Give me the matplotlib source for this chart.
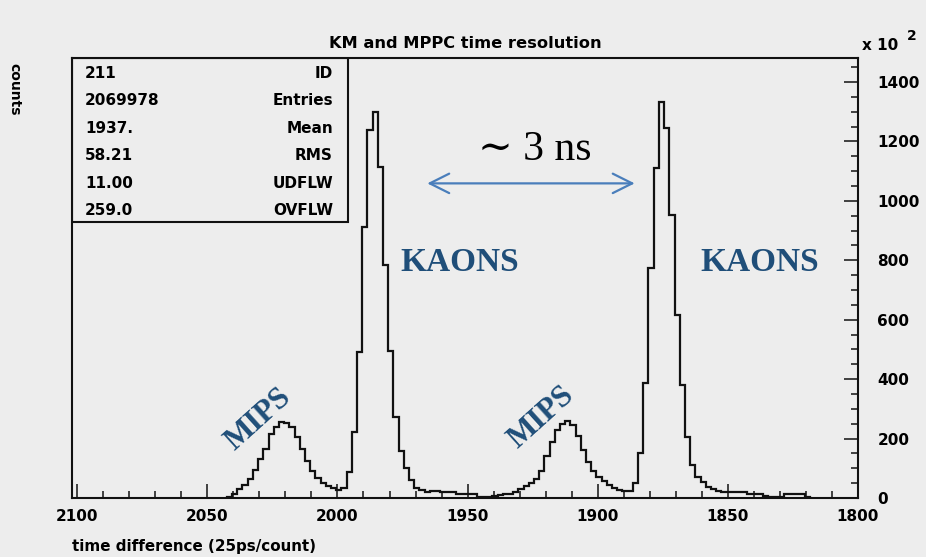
import numpy as np
import matplotlib
matplotlib.use("Agg")
import matplotlib.pyplot as plt
from matplotlib.ticker import MultipleLocator, FixedLocator
from matplotlib.patches import Rectangle, FancyArrowPatch

# ── histogram contents (counts / 100), 2-channel bins from 2042.5 downwards ──
bin_top = 2042.5
bin_width = 2.0
counts = [
    5, 15, 30, 45, 65, 95, 130, 165, 215, 240,
    255, 252, 240, 205, 165, 125, 90, 68, 52, 42,
    35, 28, 35, 88, 223, 492, 913, 1239, 1298, 1115,
    784, 495, 274, 158, 100, 60, 33, 27, 21, 25,
    25, 19, 19, 19, 13, 13, 13, 13, 4, 4,
    4, 8, 10, 13, 15, 20, 30, 40, 50, 65,
    90, 140, 190, 230, 250, 258, 245, 210, 160, 120,
    92, 72, 58, 45, 35, 28, 22, 25, 50, 150,
    386, 773, 1110, 1332, 1244, 953, 616, 380, 206, 110,
    70, 55, 38, 29, 24, 19, 19, 19, 19, 19,
    15, 12, 12, 8, 2, 2, 4, 12, 14, 14,
    14, 3,
]

stat_names = ["ID", "Entries", "Mean", "RMS", "UDFLW", "OVFLW"]
stat_values = ["211", "2069978", "1937.", "58.21", "11.00", "259.0"]

x_major = [2100, 2050, 2000, 1950, 1900, 1850, 1800]
y_major = [0, 200, 400, 600, 800, 1000, 1200, 1400]

BG = "#ededed"
NAVY = "#1f4e79"
ARROW = "#4a7ebb"
W, H = 926, 557

plt.rcParams["font.family"] = "DejaVu Sans"
plt.rcParams["font.weight"] = "bold"

def fx(px):
    return px / W

def fy(py):
    return 1 - py / H

fig = plt.figure(figsize=(W / 100, H / 100), dpi=100, facecolor=BG)
ax = fig.add_axes([fx(72), fy(498), 786 / W, 440 / H], facecolor=BG)

# ── histogram ──
edges = bin_top - bin_width * np.arange(len(counts) + 1)
ax.stairs(np.array(counts)[::-1], edges[::-1], color="#111111", lw=1.6,
          baseline=0)

# ── axes: reversed x, y scale on the right, inward ticks ──
ax.set_xlim(2102, 1800)
ax.set_ylim(0, 1481)
ax.xaxis.set_major_locator(FixedLocator(x_major))
ax.xaxis.set_minor_locator(MultipleLocator(10))
ax.yaxis.set_major_locator(FixedLocator(y_major))
ax.yaxis.set_minor_locator(MultipleLocator(50))
ax.yaxis.tick_right()
ax.tick_params(axis="both", which="both", direction="in", width=1.1,
               color="#111111", labelsize=11)
ax.tick_params(axis="both", which="major", length=10)
ax.tick_params(axis="both", which="minor", length=5)
ax.tick_params(axis="x", pad=8, top=False)
ax.tick_params(axis="y", pad=14, left=False, right=True)
for sp in ax.spines.values():
    sp.set_linewidth(1.5)
    sp.set_color("#111111")

# ── titles and axis captions ──
fig.text(fx(465), fy(44), "KM and MPPC time resolution", ha="center",
         va="center", fontsize=11.7)
fig.text(fx(72), fy(547), "time difference (25ps/count)", ha="left",
         va="center", fontsize=10.9)
fig.text(fx(14), fy(89), "counts", ha="center", va="center", fontsize=10,
         rotation=270)
fig.text(fx(862), fy(45), "x 10", ha="left", va="center", fontsize=11)
fig.text(fx(907), fy(36), "2", ha="left", va="center", fontsize=10)

# ── statistics box ──
box_right = (348 - 72) / 786
box_bottom = (498 - 222) / 440
ax.add_patch(Rectangle((0, box_bottom), box_right, 1 - box_bottom,
                       transform=ax.transAxes, fill=False, lw=1.5,
                       ec="#111111", zorder=3))
row_top = (498 - 73.5) / 440
row_step = 27.4 / 440
for i, (name, val) in enumerate(zip(stat_names, stat_values)):
    yy = row_top - i * row_step
    ax.text((85 - 72) / 786, yy, val, transform=ax.transAxes, ha="left",
            va="center", fontsize=11)
    ax.text((333 - 72) / 786, yy, name, transform=ax.transAxes, ha="right",
            va="center", fontsize=11)

# ── peak annotations ──
serif = ["Liberation Serif", "DejaVu Serif"]
for xk in (1952.9, 1837.9):
    ax.text(xk, 791, "KAONS", ha="center", va="center", color=NAVY,
            family=serif, fontweight="bold", fontsize=24)
for xm, ym in ((2030.5, 264), (1921.5, 270)):
    ax.text(xm, ym, "MIPS", ha="center", va="center", color=NAVY,
            family=serif, fontweight="bold", fontsize=22.5, rotation=42,
            rotation_mode="anchor")

ax.text(1924.1, 1171, "\u223c 3 ns", ha="center", va="center", color="black",
        family=serif, fontweight="normal", fontsize=30)
ax.add_patch(FancyArrowPatch((1965.5, 1059), (1885.8, 1059),
                             arrowstyle="<->,head_length=1.0,head_width=0.5",
                             mutation_scale=14, color=ARROW, lw=1.6,
                             shrinkA=0, shrinkB=0))

fig.savefig("out.png", dpi=100, facecolor=BG)
